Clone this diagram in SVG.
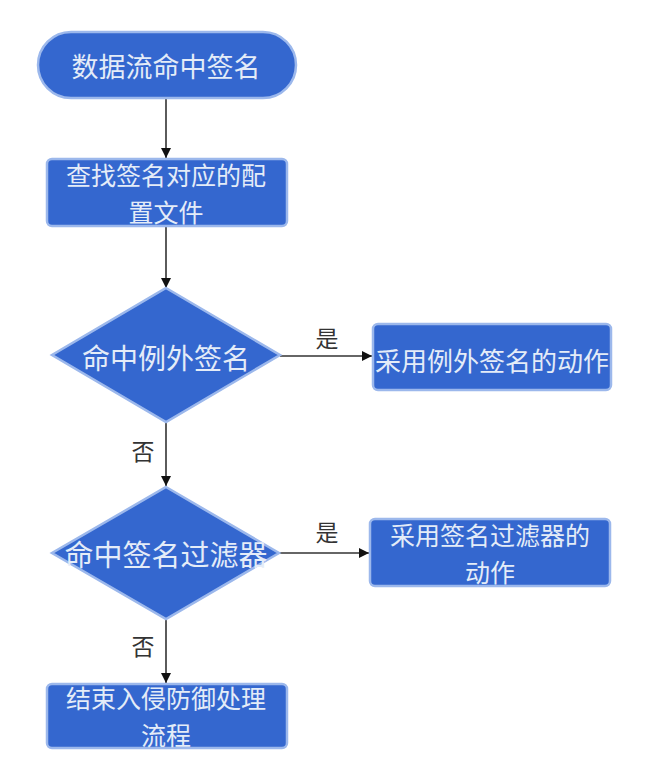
<svg xmlns="http://www.w3.org/2000/svg" width="645" height="763" viewBox="0 0 645 763">
<style>
.n{fill:#3467CF;stroke:#9CB8EC;stroke-width:2.5}
.t{font-family:"Noto Sans CJK SC","Noto Sans",sans-serif;fill:#E4ECF8;text-anchor:middle;dominant-baseline:central}
.m{font-size:25px}
.l{font-family:"Noto Sans CJK SC","Noto Sans",sans-serif;fill:#333;font-size:23px;text-anchor:middle;dominant-baseline:central}
.c{stroke:#333;stroke-width:1.6;fill:none;marker-end:url(#ah)}
</style>
<defs>
<marker id="ah" viewBox="0 0 10 10" refX="10" refY="5" markerWidth="10" markerHeight="10" markerUnits="userSpaceOnUse" orient="auto">
<path d="M0,0 L10,5 L0,10 Z" fill="#111"/>
</marker>
</defs>
<rect width="645" height="763" fill="#FFFFFF"/>
<g id="connectors">
<line class="c" x1="166" y1="98" x2="166" y2="158"/>
<line class="c" x1="166" y1="226" x2="166" y2="288"/>
<line class="c" x1="280" y1="356" x2="372" y2="356"/>
<line class="c" x1="166" y1="422" x2="166" y2="486"/>
<line class="c" x1="279" y1="553" x2="369" y2="553"/>
<line class="c" x1="166" y1="619" x2="166" y2="683"/>
<text class="l" x="327" y="337">是</text>
<text class="l" x="143" y="450">否</text>
<text class="l" x="327" y="531">是</text>
<text class="l" x="143" y="645">否</text>
</g>
<g id="start">
<rect class="n" x="38" y="32" width="258" height="66" rx="33"/>
<text class="t" x="166" y="65" font-size="27">数据流命中签名</text>
</g>
<g id="find-config">
<rect class="n" x="47" y="159" width="240" height="67" rx="5"/>
<text class="t m" x="166" y="174">查找签名对应的配</text>
<text class="t m" x="166" y="211">置文件</text>
</g>
<g id="decision-exception">
<polygon class="n" points="166,288 280,355 166,422 52,355"/>
<text class="t" x="166" y="357" font-size="28">命中例外签名</text>
</g>
<g id="exception-action">
<rect class="n" x="373" y="324" width="238" height="66" rx="5"/>
<text class="t" x="492" y="359" font-size="26">采用例外签名的动作</text>
</g>
<g id="decision-filter">
<polygon class="n" points="166,487 279,553 166,619 52,553"/>
<text class="t" x="166" y="553" font-size="29">命中签名过滤器</text>
</g>
<g id="filter-action">
<rect class="n" x="370" y="519" width="240" height="67" rx="5"/>
<text class="t m" x="490" y="534">采用签名过滤器的</text>
<text class="t m" x="490" y="571">动作</text>
</g>
<g id="end">
<rect class="n" x="47" y="684" width="240" height="64" rx="5"/>
<text class="t m" x="166" y="697">结束入侵防御处理</text>
<text class="t m" x="166" y="734">流程</text>
</g>
</svg>
